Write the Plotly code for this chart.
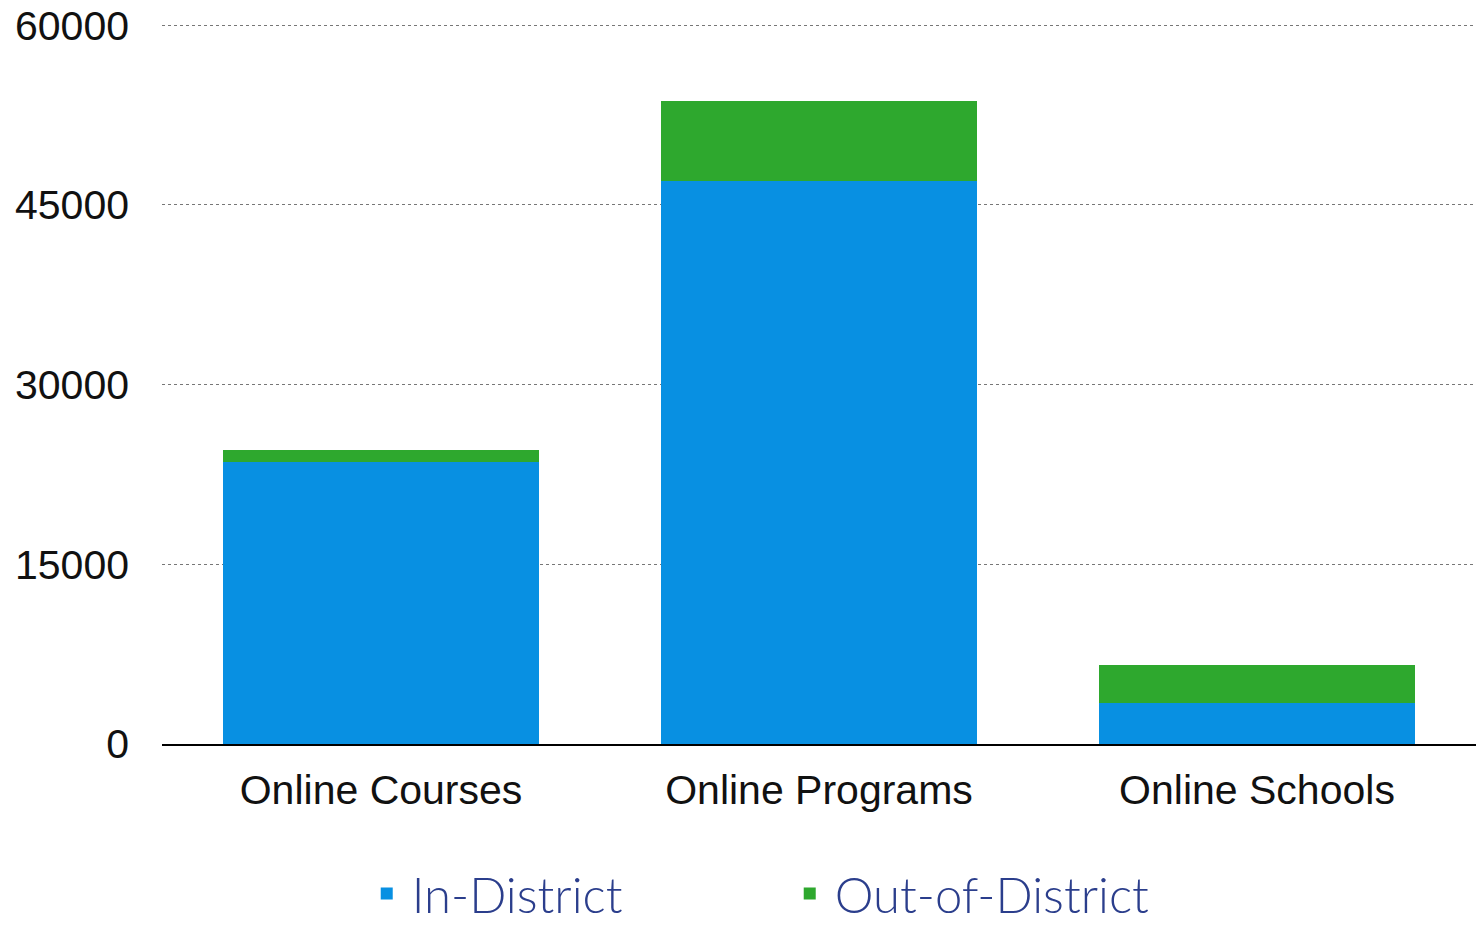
import plotly.graph_objects as go

categories = ["Online Courses", "Online Programs", "Online Schools"]
in_district = [23500, 47000, 3450]
out_district = [1000, 6650, 3150]
tick_vals = [0, 15000, 30000, 45000, 60000]
tick_text = ["0", "15000", "30000", "45000", "60000"]

fig = go.Figure()
fig.add_trace(go.Bar(
    x=categories, y=in_district, name="In-District",
    marker=dict(color="#0890E2", line=dict(width=0)),
))
fig.add_trace(go.Bar(
    x=categories, y=out_district, name="Out-of-District",
    marker=dict(color="#2EA82E", line=dict(width=0)),
))

fig.update_layout(
    width=1476, height=927,
    barmode="stack", bargap=0.28,
    plot_bgcolor="white", paper_bgcolor="white",
    margin=dict(l=162, r=0, t=24, b=183, autoexpand=False),
    font=dict(family="Liberation Sans", color="#111111"),
    legend=dict(
        orientation="h", traceorder="normal",
        x=0.152, xanchor="left", y=-0.208, yanchor="middle",
        font=dict(family="Lato", size=49, color="#2B3E8C", weight=300),
        entrywidth=368, itemwidth=40,
    ),
    xaxis=dict(
        showline=True, linecolor="black", linewidth=2,
        tickfont=dict(size=41, family="Liberation Sans", color="#111111"),
        ticks="", ticklabelstandoff=9, automargin=False,
    ),
    yaxis=dict(
        range=[0, 60100], tickvals=tick_vals, ticktext=tick_text,
        showgrid=True, gridcolor="#777777", griddash="dot", gridwidth=1,
        zeroline=False, showline=False,
        tickfont=dict(size=41, family="Liberation Sans", color="#111111"),
        ticks="", ticklabelstandoff=32, automargin=False,
        ticklabeloverflow="allow",
    ),
)

fig.write_html(
    "out.html",
    config={"displayModeBar": False},
    post_script="document.body.style.margin='0';document.body.style.overflow='hidden';",
)
